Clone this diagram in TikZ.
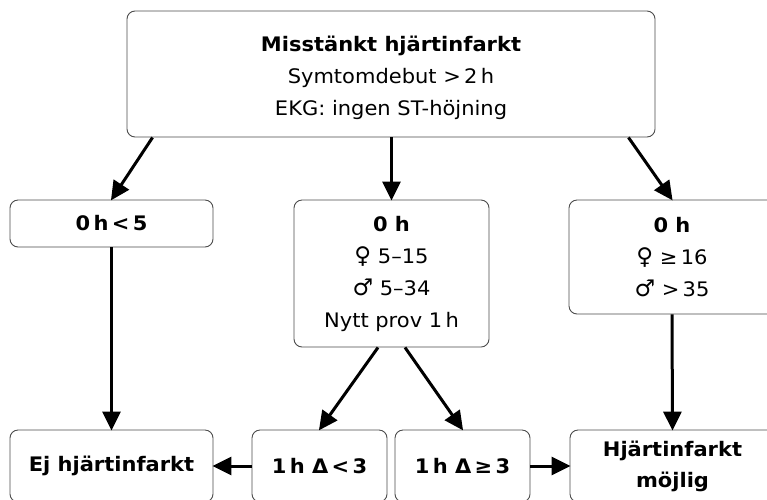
\documentclass[tikz,border=0pt]{standalone}
\usepackage{fontspec}
\setmainfont{DejaVu Sans}[FakeStretch=1.05]
\newfontfamily\symfont{DejaVu Sans}
\newcommand{\fem}{{\symfont\fontsize{23}{32}\selectfont ♀}}
\newcommand{\mal}{{\symfont\fontsize{23}{32}\selectfont ♂}}
\usetikzlibrary{arrows.meta,calc}
\begin{document}
\begin{tikzpicture}[x=1pt,y=-1pt,
  box/.style={draw=black!70, line width=0.9pt, rounded corners=8pt, fill=white,
    align=center, inner sep=0pt,
    font=\fontsize{20}{32}\selectfont},
  txt/.style={align=center, inner sep=0pt, font=\fontsize{20}{32}\selectfont},
  arr/.style={line width=3pt, -{Triangle[length=19pt,width=18pt]}, shorten >=-1pt}]
\useasboundingbox (0,0) rectangle (767,499);
\clip (0,0) rectangle (767,499);

% decision boxes
\node[box, minimum width=528pt, minimum height=126pt] (top) at (391,74) {};
\node[txt] (toptext) at (391,77.5)
  {\textbf{Misstänkt hjärtinfarkt}\\Symtomdebut >\,2\,h\\EKG: ingen ST-höjning};
\node[box, minimum width=203pt, minimum height=47pt] (low) at (111.5,223.5)
  {\textbf{0\,h\,<\,5}};
\node[box, minimum width=195pt, minimum height=147pt] (mid) at (391.5,273.5)
  {\textbf{0 h}\\\fem\ 5–15\\\mal\ 5–34\\Nytt prov 1\,h};
\node[box, minimum width=206pt, minimum height=114pt] (high) at (672,257)
  {\textbf{0 h}\\\fem\ ≥\,16\\\mal\ >\,35};

% outcome boxes
\node[box, minimum width=203pt, minimum height=72pt] (neg) at (111.5,466)
  {\textbf{Ej hjärtinfarkt}};
\node[box, minimum width=135pt, minimum height=72pt] (dlow) at (319.5,466)
  {\textbf{1\,h Δ\,<\,3}};
\node[box, minimum width=135pt, minimum height=72pt] (dhigh) at (462.5,466)
  {\textbf{1\,h Δ\,≥\,3}};
\node[box, minimum width=205pt, minimum height=72pt] (pos) at (672.5,466)
  {\textbf{Hjärtinfarkt}\\[-1pt]\textbf{möjlig}};

% connectors
\draw[arr] ([xshift=26pt]top.south west) -- (low.north);
\draw[arr] (top.south -| mid.north) -- (mid.north);
\draw[arr] ([xshift=-27pt]top.south east) -- (high.north);
\draw[arr] (low.south) -- (neg.north);
\draw[arr] ([xshift=-13.5pt]mid.south) -- (dlow.north);
\draw[arr] ([xshift=13.5pt]mid.south) -- (dhigh.north);
\draw[arr] (high.south) -- (pos.north);
\draw[arr] (dlow.west) -- (neg.east);
\draw[arr] (dhigh.east) -- (pos.west);
\end{tikzpicture}
\end{document}
